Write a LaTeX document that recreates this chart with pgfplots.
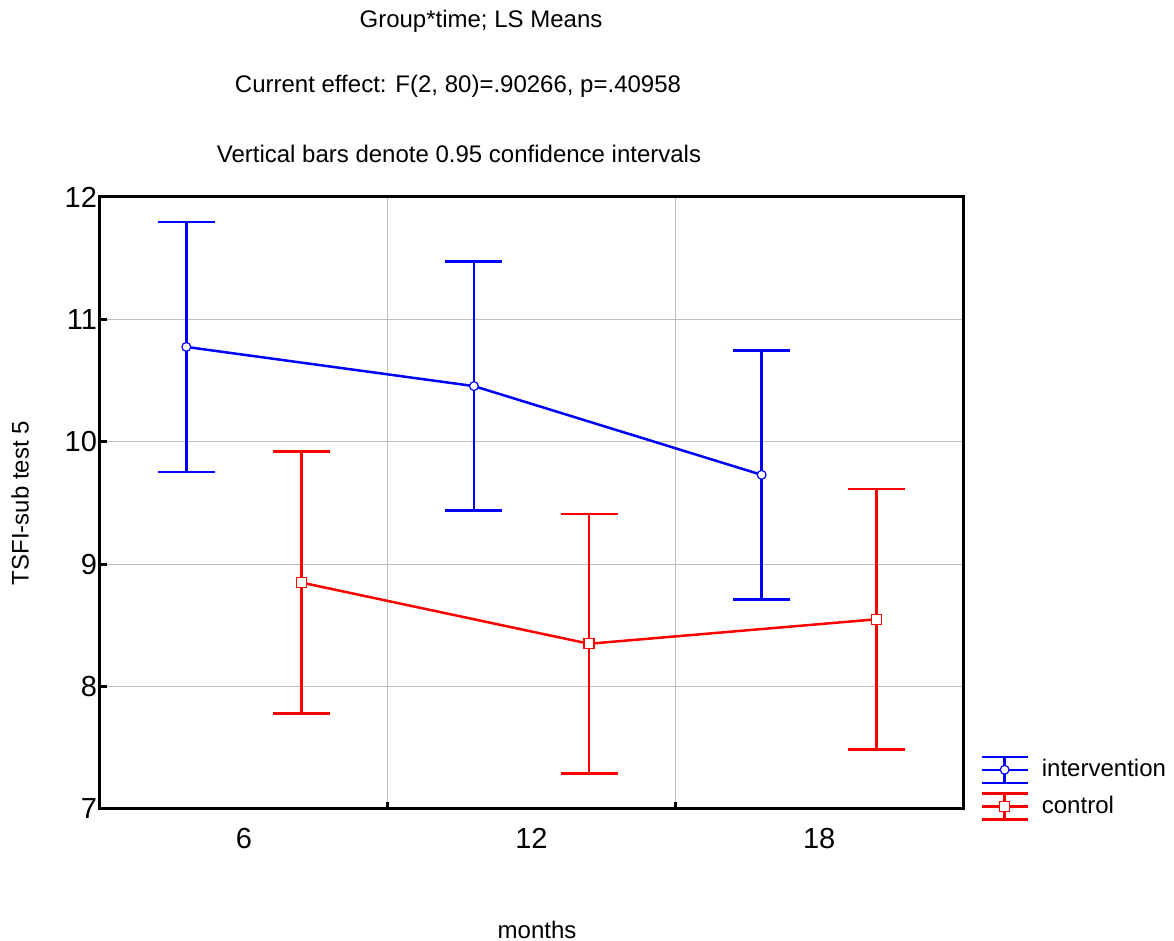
\documentclass[border=0pt]{standalone}
\usepackage{fontspec}
\setmainfont{Liberation Sans}
\usepackage{pgfplots}
\pgfplotsset{compat=1.18}
\definecolor{gridgray}{RGB}{190,190,190}
\begin{document}
\begin{tikzpicture}
\useasboundingbox (0pt,0pt) rectangle (587pt,470.5pt);
\begin{axis}[
  at={(50pt,66pt)}, anchor=south west,
  scale only axis, width=431.5pt, height=306pt,
  xmin=-0.5, xmax=2.5, ymin=7, ymax=12,
  xtick={0.5,1.5}, xticklabels={},
  extra x ticks={0,1,2}, extra x tick labels={6,12,18},
  extra x tick style={major tick length=0pt, grid=none, xticklabel shift=6pt},
  ytick={7,8,9,10,11,12},
  tick align=inside, xtick pos=bottom, ytick pos=left,
  major tick length=3.5pt,
  grid=major, grid style={gridgray, line width=0.5pt},
  axis line style={line width=1.5pt},
  tick style={line width=1.5pt, black},
  ticklabel style={font=\fontsize{14.5}{17}\selectfont},
  yticklabel shift=-2pt,
  /pgf/number format/assume math mode=true,
  xlabel={months},
  xlabel style={at={(axis description cs:0.5064,-0.1977)}, anchor=center, font=\fontsize{12}{14}\selectfont},
  ylabel={TSFI-sub test 5},
  ylabel style={at={(axis description cs:-0.0927,0.5)}, anchor=center, font=\fontsize{12}{14}\selectfont},
  legend image code/.code={
    \draw[#1, mark=none, line width=1.25pt] (0pt,6.5pt) -- (23pt,6.5pt) (0pt,-6.5pt) -- (23pt,-6.5pt) (11.5pt,-6.5pt) -- (11.5pt,6.5pt);
    \draw[#1, line width=1.25pt, mark repeat=2, mark phase=2] plot coordinates {(0pt,0pt) (11.5pt,0pt) (23pt,0pt)};
  },
  legend style={at={(axis description cs:1.0197,0.088)}, anchor=north west, draw=none, fill=none,
    inner sep=0pt, row sep=4pt, column sep=4.5pt, font=\fontsize{12}{14}\selectfont},
  legend cell align=left,
]
\addplot[blue, line width=1.25pt, mark=*, mark size=2.2pt,
  mark options={fill=white, draw=blue, line width=0.6pt, solid},
  error bars/.cd, y dir=both, y explicit,
  error bar style={line width=1.25pt, blue},
  error mark options={blue, line width=1.25pt, mark size=14.25pt, rotate=90}]
coordinates {
  (-0.2,10.775) +- (0,1.021)
  (0.8,10.455) +- (0,1.017)
  (1.8,9.73) +- (0,1.017)
};
\addlegendentry{intervention}
\addplot[red, line width=1.25pt, mark=square*, mark size=2.5pt,
  mark options={fill=white, draw=red, line width=0.6pt, solid},
  error bars/.cd, y dir=both, y explicit,
  error bar style={line width=1.25pt, red},
  error mark options={red, line width=1.25pt, mark size=14.25pt, rotate=90}]
coordinates {
  (0.2,8.85) +- (0,1.07)
  (1.2,8.35) +- (0,1.062)
  (2.2,8.55) +- (0,1.066)
};
\addlegendentry{control}
\end{axis}
\node[anchor=base, font=\fontsize{12}{14}\selectfont] at (240.5pt,456.5pt) {Group*time; LS Means};
\node[anchor=base, font=\fontsize{12}{14}\selectfont] at (229pt,424pt) {Current effect: F(2, 80)=.90266, p=.40958};
\node[anchor=base, font=\fontsize{12}{14}\selectfont] at (229.5pt,389pt) {Vertical bars denote 0.95 confidence intervals};
\end{tikzpicture}
\end{document}
